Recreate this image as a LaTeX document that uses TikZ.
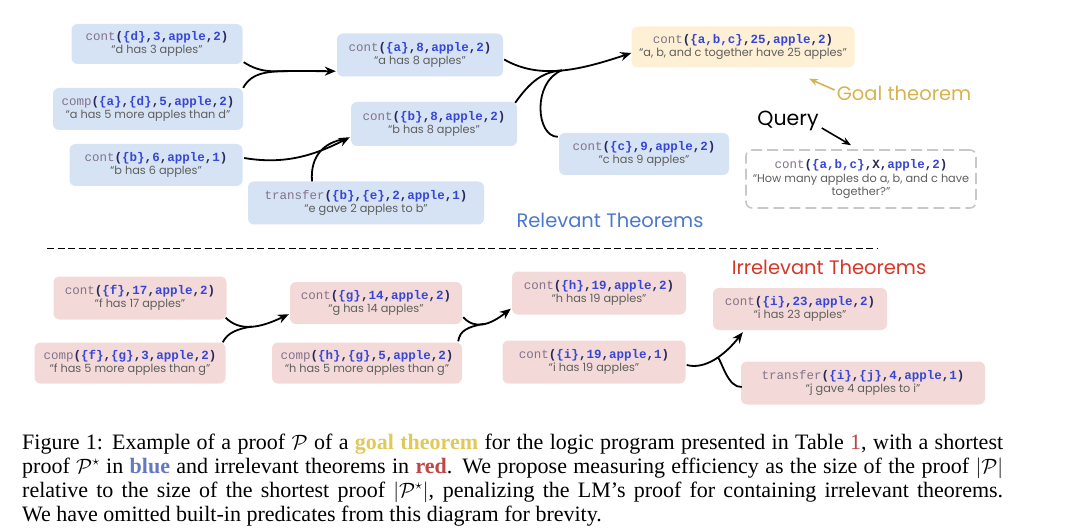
\documentclass[tikz,border=0pt]{standalone}
\usepackage{fontspec}
\setmainfont{Liberation Serif}
\setmonofont{Liberation Mono}
\newfontfamily\qfont{Poppins}
\usetikzlibrary{arrows.meta,calc}
\definecolor{bluefill}{RGB}{214,227,244}
\definecolor{redfill}{RGB}{243,218,216}
\definecolor{goalfill}{RGB}{253,240,212}
\definecolor{fncol}{RGB}{130,115,140}
\definecolor{argcol}{RGB}{55,70,215}
\definecolor{puncol}{RGB}{40,40,90}
\definecolor{qcol}{RGB}{95,95,95}
\definecolor{goalcol}{RGB}{215,178,80}
\definecolor{relcol}{RGB}{75,120,205}
\definecolor{irrcol}{RGB}{215,55,40}
\definecolor{capgoal}{RGB}{225,200,90}
\definecolor{capblue}{RGB}{100,120,195}
\definecolor{capred}{RGB}{190,70,70}
\newcommand\fnc[1]{{\color{fncol}\mdseries#1}}
\newcommand\ag[1]{{\color{argcol}#1}}
\newcommand\thm[3]{{\fontsize{12.5}{14}\selectfont\ttfamily\fnc{#1}{\bfseries\color{puncol}(#2)}}\\{\qfont\color{qcol}“#3”}}
\tikzset{
  box/.style={rounded corners=6pt, inner sep=0pt, align=center, font=\fontsize{11.3}{13.5}\selectfont},
  bbox/.style={box, fill=bluefill},
  rbox/.style={box, fill=redfill},
  gbox/.style={box, fill=goalfill},
  qbox/.style={box, fill=white, draw={rgb,255:red,200;green,200;blue,200}, line width=1.6pt, dash pattern=on 11pt off 5pt},
  conn/.style={line width=1.8pt, black},
  arr/.style={conn, -{Stealth[length=11pt,width=9pt]}},
  lbl/.style={inner sep=0pt, font=\qfont\fontsize{19.5}{22}\selectfont},
  capline/.style={anchor=base west, inner sep=0pt, font=\fontsize{22}{24}\selectfont}
}
\begin{document}
\begin{tikzpicture}[x=1pt,y=1pt]
\useasboundingbox (0,0) rectangle (1080,-532);
% relevant (blue) theorems
\node[bbox, minimum width=171pt, minimum height=40pt] (b1) at (157,-44) {\thm{cont}{\ag{\{d\}},\ag{3},\ag{apple},\ag{2}}{d has 3 apples}};
\node[bbox, minimum width=190pt, minimum height=42pt] (b2) at (148,-109) {\thm{comp}{\ag{\{a\}},\ag{\{d\}},\ag{5},\ag{apple},\ag{2}}{a has 5 more apples than d}};
\node[bbox, minimum width=173pt, minimum height=42pt] (b3) at (156,-165) {\thm{cont}{\ag{\{b\}},\ag{6},\ag{apple},\ag{1}}{b has 6 apples}};
\node[bbox, minimum width=166pt, minimum height=43pt] (b4) at (420,-55) {\thm{cont}{\ag{\{a\}},\ag{8},\ag{apple},\ag{2}}{a has 8 apples}};
\node[bbox, minimum width=166pt, minimum height=44pt] (b5) at (434,-124) {\thm{cont}{\ag{\{b\}},\ag{8},\ag{apple},\ag{2}}{b has 8 apples}};
\node[bbox, minimum width=236pt, minimum height=43pt] (b6) at (366,-203) {\thm{transfer}{\ag{\{b\}},\ag{\{e\}},\ag{2},\ag{apple},\ag{1}}{e gave 2 apples to b}};
\node[bbox, minimum width=170pt, minimum height=42pt] (b7) at (644,-154) {\thm{cont}{\ag{\{c\}},\ag{9},\ag{apple},\ag{2}}{c has 9 apples}};
\node[gbox, minimum width=223pt, minimum height=41pt] (goal) at (743,-47) {\thm{cont}{\ag{\{a,b,c\}},\ag{25},\ag{apple},\ag{2}}{a, b, and c together have 25 apples}};
\node[qbox, minimum width=230pt, minimum height=58pt] (query) at (861,-179) {{\fontsize{12.5}{14}\selectfont\ttfamily\fnc{cont}{\bfseries\color{puncol}(\ag{\{a,b,c\}},X,\ag{apple},\ag{2})}}\\{\qfont\color{qcol}“How many apples do a, b, and c have}\\{\qfont\color{qcol}together?”}};
% labels
\node[lbl, text=goalcol] (goallbl) at (904,-93) {Goal theorem};
\node[lbl, text=black, font=\qfont\fontsize{20.5}{22}\selectfont] (querylbl) at (788,-121) {Query};
\node[lbl, text=relcol] (rellbl) at (610,-220) {Relevant Theorems};
\node[lbl, text=irrcol] (irrlbl) at (829,-267) {Irrelevant Theorems};
\draw[line width=1.6pt, goalcol, -{Stealth[length=9pt,width=7pt]}] ($(goallbl.west)+(-2,3)$) -- ($(goal.south)+(66,-11)$);
\draw[line width=1.6pt, black, -{Stealth[length=9pt,width=7pt]}] ($(querylbl.east)+(3,-7)$) -- ($(query.north)+(-10,4)$);
% separator
\coordinate (sepL) at (47,-248);
\coordinate (sepR) at (877,-248);
\draw[line width=1pt, dash pattern=on 7pt off 3.5pt] (sepL) -- (sepR);
% relevant connectors
\draw[arr] ($(b1.south east)+(1,2)$) .. controls (262,-74) and (275,-71) .. (295,-71) coordinate (m1) -- ($(b4.south west)+(-1,5.5)$);
\draw[conn] ($(b2.north east)+(0,0)$) .. controls (252,-72) and (268,-71) .. (m1);
\draw[arr] ($(b3.east)+(1.5,7)$) .. controls (285,-165) and (315,-155) .. ($(b5.south west)+(-1,9)$);
\draw[conn] ($(b6.north)+(-54,0)$) .. controls (310,-155) and (325,-142) .. (345,-139);
\draw[arr] ($(b4.east)+(1,-4.5)$) .. controls (540,-80) and (580,-70) .. coordinate[pos=0.5] (m2) ($(goal.west)+(0,-6)$);
\draw[conn] ($(b5.north east)+(-2,-1)$) .. controls (530,-82) and (542,-72) .. (m2);
\draw[conn] ($(b7.north west)+(-1,-4)$) .. controls (536,-137) and (532,-82) .. (m2);
% irrelevant (red) theorems
\node[rbox, minimum width=173pt, minimum height=43pt] (r1) at (140,-298) {\thm{cont}{\ag{\{f\}},\ag{17},\ag{apple},\ag{2}}{f has 17 apples}};
\node[rbox, minimum width=191pt, minimum height=41pt] (r2) at (130,-363) {\thm{comp}{\ag{\{f\}},\ag{\{g\}},\ag{3},\ag{apple},\ag{2}}{f has 5 more apples than g}};
\node[rbox, minimum width=172pt, minimum height=42pt] (r3) at (376,-303) {\thm{cont}{\ag{\{g\}},\ag{14},\ag{apple},\ag{2}}{g has 14 apples}};
\node[rbox, minimum width=190pt, minimum height=41pt] (r4) at (367,-363) {\thm{comp}{\ag{\{h\}},\ag{\{g\}},\ag{5},\ag{apple},\ag{2}}{h has 5 more apples than g}};
\node[rbox, minimum width=174pt, minimum height=43pt] (r5) at (599,-293) {\thm{cont}{\ag{\{h\}},\ag{19},\ag{apple},\ag{2}}{h has 19 apples}};
\node[rbox, minimum width=183pt, minimum height=43pt] (r6) at (594,-362) {\thm{cont}{\ag{\{i\}},\ag{19},\ag{apple},\ag{1}}{i has 19 apples}};
\node[rbox, minimum width=174pt, minimum height=42pt] (r7) at (800,-309) {\thm{cont}{\ag{\{i\}},\ag{23},\ag{apple},\ag{2}}{i has 23 apples}};
\node[rbox, minimum width=244pt, minimum height=43pt] (r8) at (863,-383) {\thm{transfer}{\ag{\{i\}},\ag{\{j\}},\ag{4},\ag{apple},\ag{1}}{j gave 4 apples to i}};
% irrelevant connectors
\draw[arr] ($(r1.south east)+(-1,2)$) .. controls (240,-332) and (260,-328) .. coordinate[pos=0.5] (m3) ($(r3.south west)+(-1,10)$);
\draw[conn] ($(r2.north east)+(-3,0)$) .. controls (228,-332) and (238,-329) .. (m3);
\draw[arr] ($(r3.south east)+(1,7)$) .. controls (475,-330) and (490,-325) .. coordinate[pos=0.5] (m4) ($(r5.south west)+(-1,6)$);
\draw[conn] ($(r4.north east)+(-4,1)$) .. controls (460,-330) and (468,-327) .. (m4);
\draw[arr] ($(r6.east)+(1,-3)$) .. controls (705,-370) and (725,-355) .. coordinate[pos=0.55] (m5) ($(r7.south west)+(30,-2)$);
\draw[conn] ($(r8.west)+(1,-4)$) .. controls (728,-388) and (722,-362) .. (m5);
% caption
\node[capline] (cap1) at (22,-449) {\hbox to 981pt{Figure 1: Example of a proof $\mathcal{P}$ of a \textbf{\color{capgoal}goal theorem} for the logic program presented in Table {\color{capred}1}, with a shortest}};
\node[capline] (cap2) at (22,-473) {\hbox to 981pt{proof $\mathcal{P}^\star$ in \textbf{\color{capblue}blue} and irrelevant theorems in \textbf{\color{capred}red}. We propose measuring efficiency as the size of the proof $|\mathcal{P}|$}};
\node[capline] (cap3) at (22,-497) {\hbox to 981pt{relative to the size of the shortest proof $|\mathcal{P}^\star|$, penalizing the LM’s proof for containing irrelevant theorems.}};
\node[capline] (cap4) at (22,-521) {We have omitted built-in predicates from this diagram for brevity.};
\end{tikzpicture}
\end{document}
